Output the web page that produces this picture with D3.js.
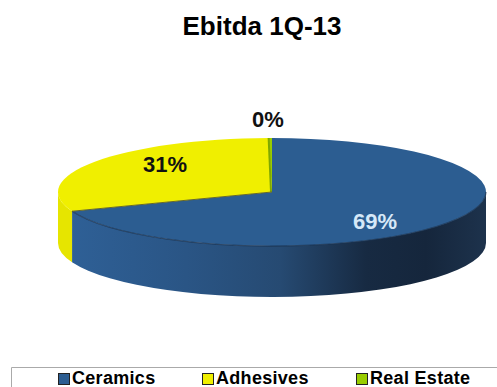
<!DOCTYPE html>
<html>
<head>
<meta charset="utf-8">
<script src="https://cdn.jsdelivr.net/npm/d3@7/dist/d3.min.js"></script>
<style>
  html, body { margin: 0; padding: 0; background: #fff; }
  svg { display: block; }
  text { font-family: "Liberation Sans", Arial, sans-serif; font-weight: bold; }
</style>
</head>
<body>
<script>
const categories = ["Ceramics", "Adhesives", "Real Estate"];
const shares = [69.2, 30.55, 0.25];
const chartTitle = "Ebitda 1Q-13";

const width = 497, height = 387;
const cx = 272, cy = 192, rx = 214, ry = 54, depth = 51;

const colour = d3.scaleOrdinal().domain(categories).range(["#2c5d91", "#f0ef00", "#99cc00"]);
const rimColour = d3.scaleOrdinal().domain(categories).range(["url(#ceramicsSide)", "#e6e500", "#7fa800"]);

const svg = d3.select("body").append("svg").attr("width", width).attr("height", height);

// Wall of the disc: blue darkens towards the right, then lifts a little at the edge.
const grad = svg.append("defs").append("linearGradient")
  .attr("id", "ceramicsSide")
  .attr("gradientUnits", "userSpaceOnUse")
  .attr("x1", cx - rx).attr("x2", cx + rx).attr("y1", 0).attr("y2", 0);
[[0, "#2f6198"], [0.3, "#2a5585"], [0.52, "#264a72"], [0.72, "#172a42"], [0.86, "#15263c"], [1, "#1d324c"]]
  .forEach(([o, c]) => grad.append("stop").attr("offset", o).attr("stop-color", c));

svg.append("text")
  .attr("x", 262).attr("y", 35)
  .attr("text-anchor", "middle")
  .attr("font-size", 26)
  .attr("fill", "#000")
  .text(chartTitle);

const pie = d3.pie().sort(null).value((d, i) => shares[i]);
const slices = pie(categories);

// Point on the tilted rim, angle measured clockwise from the top.
const rim = (a, drop = 0) => [cx + rx * Math.sin(a), cy - ry * Math.cos(a) + drop];

// Only the front half of each slice shows a wall.
const frontStart = Math.PI / 2, frontEnd = Math.PI * 3 / 2;
const wall = svg.append("g");
slices.forEach(s => {
  const a0 = Math.max(s.startAngle, frontStart), a1 = Math.min(s.endAngle, frontEnd);
  if (a1 <= a0) return;
  const [x0, y0] = rim(a0), [x1, y1] = rim(a1), [x2, y2] = rim(a1, depth), [x3, y3] = rim(a0, depth);
  const d = `M${x0},${y0}A${rx},${ry} 0 0 1 ${x1},${y1}L${x2},${y2}A${rx},${ry} 0 0 0 ${x3},${y3}Z`;
  wall.append("path").attr("d", d).attr("fill", rimColour(s.data));
});

// Top face: a circular arc squashed into the tilt of the disc.
const arc = d3.arc().innerRadius(0).outerRadius(rx);
svg.append("g")
  .attr("transform", `translate(${cx},${cy}) scale(1,${ry / rx})`)
  .selectAll("path")
  .data(slices)
  .join("path")
  .attr("d", arc)
  .attr("fill", d => colour(d.data));

// Thin green sliver stays visible at the seam.
const sliver = slices[2];
svg.append("line")
  .attr("x1", cx - 1).attr("y1", cy)
  .attr("x2", rim(sliver.startAngle)[0]).attr("y2", rim(sliver.startAngle)[1])
  .attr("stroke", "#7fa800").attr("stroke-width", 2);

// Dark lip along the front of the top face.
const lipStart = rim(slices[0].endAngle), lipEnd = rim(frontStart);
svg.append("path")
  .attr("d", `M${lipEnd[0]},${lipEnd[1]}A${rx},${ry} 0 0 1 ${lipStart[0]},${lipStart[1]}`)
  .attr("fill", "none").attr("stroke", "#1b3350").attr("stroke-width", 1.2).attr("opacity", 0.75);
svg.append("line")
  .attr("x1", cx).attr("y1", cy).attr("x2", lipStart[0]).attr("y2", lipStart[1])
  .attr("stroke", "#66682a").attr("stroke-width", 1);

// Percentage labels
const labelSpots = [[375, 229, "#d6e8f8"], [165, 172, "#111"], [268, 127, "#111"]];
svg.append("g").selectAll("text")
  .data(slices)
  .join("text")
  .attr("x", (d, i) => labelSpots[i][0])
  .attr("y", (d, i) => labelSpots[i][1])
  .attr("text-anchor", "middle")
  .attr("font-size", 22)
  .attr("fill", (d, i) => labelSpots[i][2])
  .text(d => d3.format(".0f")(d.value) + "%");

// Legend strip, open at the right and running off the bottom edge.
svg.append("path")
  .attr("d", `M11.5,${height}V367.5H${width}`)
  .attr("fill", "none").attr("stroke", "#aaa");

const legendX = d3.scaleOrdinal().domain(categories).range([58, 202, 356]);
const legend = svg.append("g").selectAll("g")
  .data(categories)
  .join("g")
  .attr("transform", d => `translate(${legendX(d)},373)`);
legend.append("rect")
  .attr("x", 0.5).attr("y", 0.5).attr("width", 11).attr("height", 11)
  .attr("fill", d => colour(d))
  .attr("stroke", "#222");
legend.append("text")
  .attr("x", 14).attr("y", 10.5)
  .attr("font-size", 18)
  .attr("letter-spacing", 0.3)
  .attr("fill", "#000")
  .text(d => d);
</script>
</body>
</html>
